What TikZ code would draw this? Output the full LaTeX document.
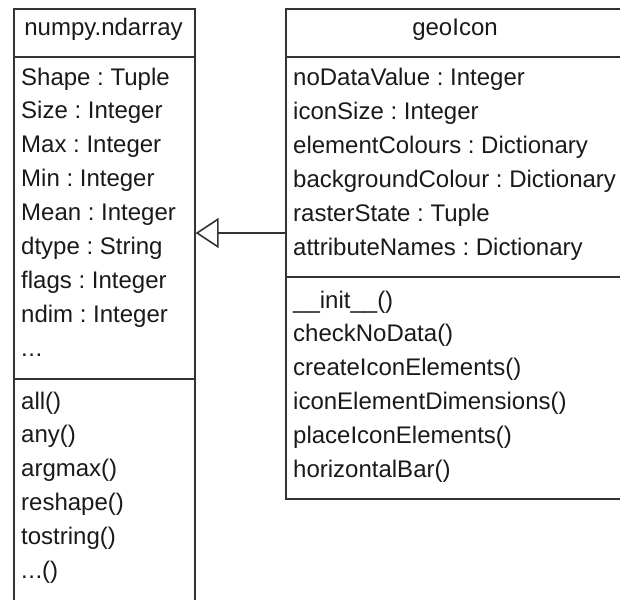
\documentclass[tikz,border=0pt]{standalone}
\usepackage{fontspec}
\setmainfont{Liberation Sans}
\usetikzlibrary{arrows.meta,shadows}
\definecolor{ink}{HTML}{1A1A1A}
\definecolor{edge}{HTML}{333333}
% literal ellipsis, kept out of \foreach's range syntax
\newcommand\elide{.\kern0.5pt.\kern0.5pt.}
\frenchspacing
\begin{document}
\begin{tikzpicture}[x=1pt,y=-1pt,
  classbox/.style={draw=edge, line width=1.6pt, rectangle, inner sep=0pt,
    anchor=north west, fill=white,
    drop shadow={shadow xshift=1.5pt, shadow yshift=-1.5pt, opacity=0.25}},
  sep/.style={draw=edge, line width=1.6pt},
  member/.style={anchor=base west, inner sep=0pt, text=ink,
    font=\fontsize{24}{28}\selectfont},
  title/.style={anchor=base, inner sep=0pt, text=ink,
    font=\fontsize{24}{28}\selectfont},
  inherits/.style={draw=edge, line width=1.6pt,
    -{Triangle[open, length=23pt, width=30pt, line width=1.6pt]}}]
\useasboundingbox (0,0) rectangle (620,599);

% class numpy.ndarray (runs past the lower edge)
\node[classbox, minimum width=181pt, minimum height=640pt] (nd) at (13,8) {};
\draw[sep] (nd.west |- 0,57) -- (nd.east |- 0,57);
\draw[sep] (nd.west |- 0,379) -- (nd.east |- 0,379);
\node[title] (ndname) at (103.5,36) {numpy.ndarray};
\foreach \t [count=\i from 0] in {Shape : Tuple, Size : Integer, Max : Integer,
    Min : Integer, Mean : Integer, dtype : String, flags : Integer,
    ndim : Integer, \elide}
  \node[member] (nda\i) at (21,85+33.9*\i) {\t};
\foreach \t [count=\i from 0] in {all(), any(), argmax(), reshape(), tostring(), \elide()}
  \node[member] (ndm\i) at (21,409+33.8*\i) {\t};

% class geoIcon (runs past the right edge)
\node[classbox, minimum width=340pt, minimum height=490pt] (gi) at (285,8) {};
\draw[sep] (gi.west |- 0,57) -- (gi.east |- 0,57);
\draw[sep] (gi.west |- 0,277) -- (gi.east |- 0,277);
\node[title] (giname) at (455,36) {geoIcon};
\foreach \t [count=\i from 0] in {noDataValue : Integer, iconSize : Integer,
    elementColours : Dictionary, backgroundColour : Dictionary,
    rasterState : Tuple, attributeNames : Dictionary}
  \node[member] (gia\i) at (293,85+34*\i) {\t};
\foreach \t [count=\i from 0] in {\_\_init\_\_(), checkNoData(),
    createIconElements(), iconElementDimensions(), placeIconElements(),
    horizontalBar()}
  \node[member] (gim\i) at (293,308+33.8*\i) {\t};

% generalisation: geoIcon inherits from numpy.ndarray
\coordinate (link) at (0,233);
\draw[inherits] (gi.west |- link) -- (nd.east |- link);
\end{tikzpicture}
\end{document}
